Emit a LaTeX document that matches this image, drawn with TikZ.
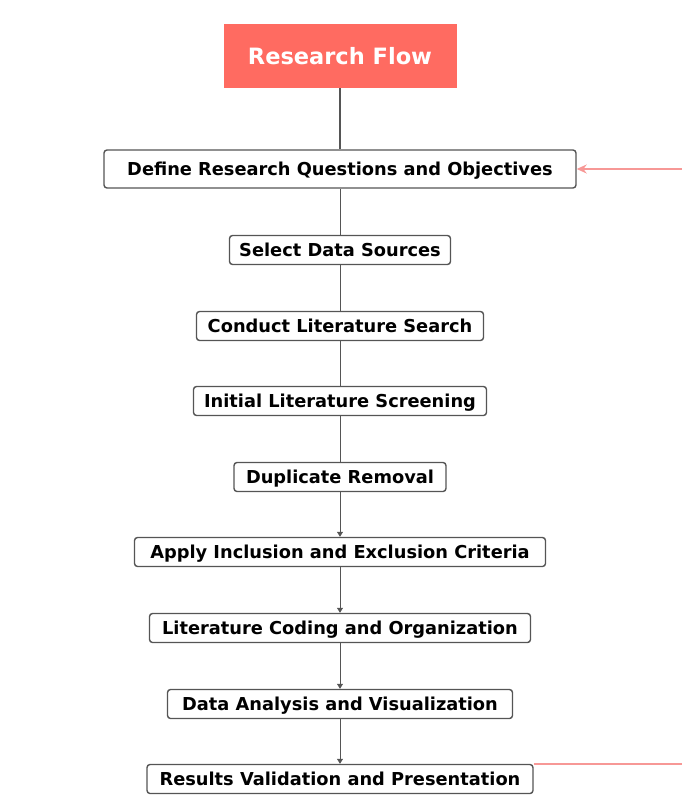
\documentclass[tikz,border=0pt]{standalone}
\usepackage{fontspec}
\setmainfont{DejaVu Sans}
\usetikzlibrary{arrows.meta}
\definecolor{flowred}{RGB}{255,107,97}
\definecolor{linegray}{RGB}{85,85,85}
\definecolor{loopred}{RGB}{247,152,150}
\tikzset{
  stepbox/.style={draw=linegray,line width=1.4pt,rounded corners=3pt,fill=white,
    minimum height=29pt,inner sep=0pt,text height=13pt,text depth=0pt,
    font=\fontsize{17.8}{20}\selectfont\bfseries},
  titlebox/.style={fill=flowred,text=white,minimum width=233pt,minimum height=64pt,
    inner sep=0pt,text height=16.4pt,text depth=0pt,
    font=\fontsize{22.5}{26}\selectfont\bfseries},
  link/.style={draw=linegray,line width=0.8pt},
  arrowlink/.style={link,-{Triangle[length=5pt,width=6pt]}},
  loopline/.style={draw=loopred,line width=1.4pt}
}
\begin{document}
\begin{tikzpicture}[x=1pt,y=-1pt]
\useasboundingbox (0,0) rectangle (682,809);
% title and steps
\node[titlebox] (title) at (340,56) {Research Flow};
\node[stepbox,minimum width=472pt,minimum height=38pt] (define) at (340,169) {Define Research Questions and Objectives};
\node[stepbox,minimum width=221pt] (select) at (340,250) {Select Data Sources};
\node[stepbox,minimum width=287pt] (search) at (340,326) {Conduct Literature Search};
\node[stepbox,minimum width=293pt] (screen) at (340,401) {Initial Literature Screening};
\node[stepbox,minimum width=212pt] (dedup) at (340,477) {Duplicate Removal};
\node[stepbox,minimum width=411pt] (criteria) at (340,552) {Apply Inclusion and Exclusion Criteria};
\node[stepbox,minimum width=381pt] (coding) at (340,628) {Literature Coding and Organization};
\node[stepbox,minimum width=345pt] (analysis) at (340,704) {Data Analysis and Visualization};
\node[stepbox,minimum width=386pt] (results) at (340,779) {Results Validation and Presentation};
% connectors
\draw[link,line width=2.6pt] (title) -- (define);
\draw[link] (define) -- (select);
\draw[link] (select) -- (search);
\draw[link] (search) -- (screen);
\draw[link] (screen) -- (dedup);
\draw[arrowlink] (dedup) -- (criteria);
\draw[arrowlink] (criteria) -- (coding);
\draw[arrowlink] (coding) -- (analysis);
\draw[arrowlink] (analysis) -- (results);
% feedback loop
\coordinate (loopin) at (682,169);
\coordinate (loopout) at (682,779);
\draw[loopline,-{Stealth[length=10pt,width=9pt]}] (loopin) -- (define);
\draw[loopline] (results.north east) -- (results.north east -| loopout);
\end{tikzpicture}
\end{document}
